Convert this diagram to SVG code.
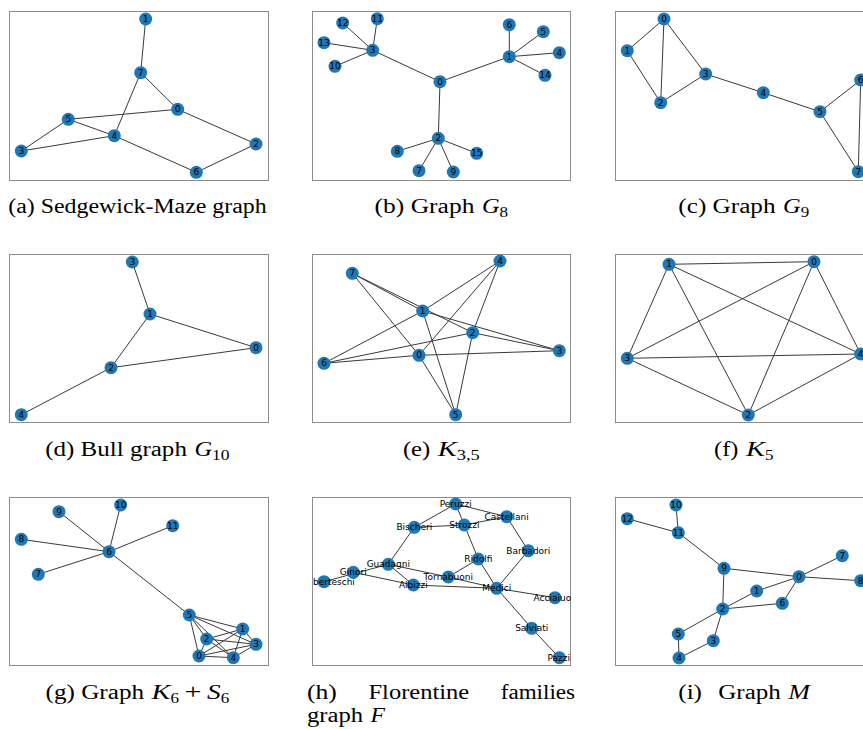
<svg xmlns="http://www.w3.org/2000/svg" width="863" height="729" viewBox="0 0 863 729">
<style>
.frame{fill:none;stroke:#8c8c8c;stroke-width:1}
.e line{stroke:#3a3a3a;stroke-width:1}
.n circle{fill:#1f78b4}
.n text{font-family:"DejaVu Sans",sans-serif;font-size:9px;fill:#000;text-anchor:middle;dominant-baseline:central}
.cap{font-family:"Liberation Serif",serif;font-size:20px;fill:#000}
.it{font-style:italic}
.sub{font-size:14.5px}
</style>
<rect width="863" height="729" fill="#fff"/>
<g id="frames">
<rect class="frame" x="9.5" y="11.5" width="259" height="169"/>
<rect class="frame" x="312.5" y="11.5" width="258" height="169"/>
<rect class="frame" x="615.5" y="11.5" width="259" height="169"/>
<rect class="frame" x="9.5" y="254.5" width="259" height="168"/>
<rect class="frame" x="312.5" y="254.5" width="258" height="168"/>
<rect class="frame" x="615.5" y="254.5" width="259" height="168"/>
<rect class="frame" x="9.5" y="497.5" width="259" height="168"/>
<rect class="frame" x="312.5" y="497.5" width="258" height="168"/>
<rect class="frame" x="615.5" y="497.5" width="259" height="168"/>
</g>
<g id="connectors" class="e">
<!-- a -->
<line x1="145.7" y1="19" x2="140.7" y2="72.7"/>
<line x1="140.7" y1="72.7" x2="177.7" y2="109.3"/>
<line x1="140.7" y1="72.7" x2="114.3" y2="135.7"/>
<line x1="177.7" y1="109.3" x2="68.3" y2="119.3"/>
<line x1="177.7" y1="109.3" x2="256" y2="144"/>
<line x1="68.3" y1="119.3" x2="21.3" y2="151"/>
<line x1="68.3" y1="119.3" x2="114.3" y2="135.7"/>
<line x1="21.3" y1="151" x2="114.3" y2="135.7"/>
<line x1="114.3" y1="135.7" x2="196.3" y2="172.3"/>
<line x1="196.3" y1="172.3" x2="256" y2="144"/>
<!-- b -->
<line x1="372.7" y1="50.3" x2="377.3" y2="18.7"/>
<line x1="372.7" y1="50.3" x2="342.7" y2="23"/>
<line x1="372.7" y1="50.3" x2="324" y2="42.7"/>
<line x1="372.7" y1="50.3" x2="335" y2="66.3"/>
<line x1="372.7" y1="50.3" x2="440" y2="81.7"/>
<line x1="440" y1="81.7" x2="509.3" y2="56.7"/>
<line x1="509.3" y1="56.7" x2="509.3" y2="24.7"/>
<line x1="509.3" y1="56.7" x2="543.3" y2="31.7"/>
<line x1="509.3" y1="56.7" x2="559.3" y2="52.7"/>
<line x1="509.3" y1="56.7" x2="545" y2="75.3"/>
<line x1="440" y1="81.7" x2="438.3" y2="138.3"/>
<line x1="438.3" y1="138.3" x2="397.3" y2="151.3"/>
<line x1="438.3" y1="138.3" x2="419" y2="170.7"/>
<line x1="438.3" y1="138.3" x2="453.3" y2="172"/>
<line x1="438.3" y1="138.3" x2="476.7" y2="153.3"/>
<!-- c -->
<line x1="664" y1="19" x2="627.3" y2="50.7"/>
<line x1="664" y1="19" x2="660.7" y2="102.7"/>
<line x1="664" y1="19" x2="705.7" y2="74"/>
<line x1="627.3" y1="50.7" x2="660.7" y2="102.7"/>
<line x1="660.7" y1="102.7" x2="705.7" y2="74"/>
<line x1="705.7" y1="74" x2="763.3" y2="92.7"/>
<line x1="763.3" y1="92.7" x2="820" y2="111.7"/>
<line x1="820" y1="111.7" x2="860.7" y2="80"/>
<line x1="820" y1="111.7" x2="858.3" y2="171.7"/>
<line x1="860.7" y1="80" x2="858.3" y2="171.7"/>
<!-- d -->
<line x1="132.3" y1="262" x2="150" y2="314"/>
<line x1="150" y1="314" x2="256" y2="347.7"/>
<line x1="150" y1="314" x2="111" y2="367.7"/>
<line x1="111" y1="367.7" x2="256" y2="347.7"/>
<line x1="111" y1="367.7" x2="21.3" y2="414.7"/>
<!-- e -->
<line x1="419" y1="355.3" x2="559.3" y2="350.7"/>
<line x1="419" y1="355.3" x2="500" y2="261"/>
<line x1="419" y1="355.3" x2="455.7" y2="414.7"/>
<line x1="419" y1="355.3" x2="324" y2="363.3"/>
<line x1="419" y1="355.3" x2="352.3" y2="273.3"/>
<line x1="422.7" y1="311" x2="559.3" y2="350.7"/>
<line x1="422.7" y1="311" x2="500" y2="261"/>
<line x1="422.7" y1="311" x2="455.7" y2="414.7"/>
<line x1="422.7" y1="311" x2="324" y2="363.3"/>
<line x1="422.7" y1="311" x2="352.3" y2="273.3"/>
<line x1="472.7" y1="332.7" x2="559.3" y2="350.7"/>
<line x1="472.7" y1="332.7" x2="500" y2="261"/>
<line x1="472.7" y1="332.7" x2="455.7" y2="414.7"/>
<line x1="472.7" y1="332.7" x2="324" y2="363.3"/>
<line x1="472.7" y1="332.7" x2="352.3" y2="273.3"/>
<!-- f -->
<line x1="814" y1="261.7" x2="669" y2="264.3"/>
<line x1="814" y1="261.7" x2="748.3" y2="415"/>
<line x1="814" y1="261.7" x2="627.3" y2="358.3"/>
<line x1="814" y1="261.7" x2="860.7" y2="354"/>
<line x1="669" y1="264.3" x2="748.3" y2="415"/>
<line x1="669" y1="264.3" x2="627.3" y2="358.3"/>
<line x1="669" y1="264.3" x2="860.7" y2="354"/>
<line x1="748.3" y1="415" x2="627.3" y2="358.3"/>
<line x1="748.3" y1="415" x2="860.7" y2="354"/>
<line x1="627.3" y1="358.3" x2="860.7" y2="354"/>
<!-- g -->
<line x1="109" y1="551.7" x2="120.7" y2="505"/>
<line x1="109" y1="551.7" x2="59" y2="511.7"/>
<line x1="109" y1="551.7" x2="172.7" y2="525.7"/>
<line x1="109" y1="551.7" x2="21.3" y2="539.3"/>
<line x1="109" y1="551.7" x2="38.3" y2="574.3"/>
<line x1="109" y1="551.7" x2="189.3" y2="615"/>
<line x1="199" y1="656" x2="242.7" y2="629"/>
<line x1="199" y1="656" x2="206.7" y2="639"/>
<line x1="199" y1="656" x2="256" y2="644.3"/>
<line x1="199" y1="656" x2="233.3" y2="657.7"/>
<line x1="199" y1="656" x2="189.3" y2="615"/>
<line x1="242.7" y1="629" x2="206.7" y2="639"/>
<line x1="242.7" y1="629" x2="256" y2="644.3"/>
<line x1="242.7" y1="629" x2="233.3" y2="657.7"/>
<line x1="242.7" y1="629" x2="189.3" y2="615"/>
<line x1="206.7" y1="639" x2="256" y2="644.3"/>
<line x1="206.7" y1="639" x2="233.3" y2="657.7"/>
<line x1="206.7" y1="639" x2="189.3" y2="615"/>
<line x1="256" y1="644.3" x2="233.3" y2="657.7"/>
<line x1="256" y1="644.3" x2="189.3" y2="615"/>
<line x1="233.3" y1="657.7" x2="189.3" y2="615"/>
<!-- h -->
<line x1="555" y1="597.7" x2="496.7" y2="588.3"/>
<line x1="496.7" y1="588.3" x2="528.3" y2="550.7"/>
<line x1="496.7" y1="588.3" x2="478.3" y2="559"/>
<line x1="496.7" y1="588.3" x2="448.3" y2="577"/>
<line x1="496.7" y1="588.3" x2="413.3" y2="585"/>
<line x1="496.7" y1="588.3" x2="531.7" y2="628.3"/>
<line x1="506.7" y1="516.7" x2="455.7" y2="504"/>
<line x1="506.7" y1="516.7" x2="464.3" y2="525"/>
<line x1="506.7" y1="516.7" x2="528.3" y2="550.7"/>
<line x1="455.7" y1="504" x2="464.3" y2="525"/>
<line x1="455.7" y1="504" x2="414.3" y2="527.3"/>
<line x1="464.3" y1="525" x2="478.3" y2="559"/>
<line x1="464.3" y1="525" x2="414.3" y2="527.3"/>
<line x1="414.3" y1="527.3" x2="388.3" y2="564.3"/>
<line x1="388.3" y1="564.3" x2="324" y2="581.7"/>
<line x1="388.3" y1="564.3" x2="448.3" y2="577"/>
<line x1="388.3" y1="564.3" x2="413.3" y2="585"/>
<line x1="413.3" y1="585" x2="353.3" y2="572.3"/>
<line x1="478.3" y1="559" x2="448.3" y2="577"/>
<line x1="531.7" y1="628.3" x2="559.3" y2="657.7"/>
<!-- i -->
<line x1="676" y1="505" x2="678.3" y2="532.7"/>
<line x1="627.3" y1="518.7" x2="678.3" y2="532.7"/>
<line x1="678.3" y1="532.7" x2="724" y2="568.3"/>
<line x1="724" y1="568.3" x2="799" y2="576.7"/>
<line x1="724" y1="568.3" x2="722.7" y2="609"/>
<line x1="799" y1="576.7" x2="842.3" y2="555.7"/>
<line x1="799" y1="576.7" x2="860.7" y2="580.7"/>
<line x1="799" y1="576.7" x2="756.7" y2="591"/>
<line x1="799" y1="576.7" x2="782.3" y2="603.3"/>
<line x1="756.7" y1="591" x2="722.7" y2="609"/>
<line x1="782.3" y1="603.3" x2="722.7" y2="609"/>
<line x1="722.7" y1="609" x2="678.3" y2="634"/>
<line x1="722.7" y1="609" x2="713.3" y2="640.7"/>
<line x1="678.3" y1="634" x2="679" y2="658"/>
<line x1="713.3" y1="640.7" x2="679" y2="658"/>
</g>
<g id="nodes-a">
<g id="a0" class="n"><circle cx="177.7" cy="109.3" r="6.5"/><text x="177.7" y="109.3">0</text></g>
<g id="a1" class="n"><circle cx="145.7" cy="19" r="6.5"/><text x="145.7" y="19">1</text></g>
<g id="a2" class="n"><circle cx="256" cy="144" r="6.5"/><text x="256" y="144">2</text></g>
<g id="a3" class="n"><circle cx="21.3" cy="151" r="6.5"/><text x="21.3" y="151">3</text></g>
<g id="a4" class="n"><circle cx="114.3" cy="135.7" r="6.5"/><text x="114.3" y="135.7">4</text></g>
<g id="a5" class="n"><circle cx="68.3" cy="119.3" r="6.5"/><text x="68.3" y="119.3">5</text></g>
<g id="a6" class="n"><circle cx="196.3" cy="172.3" r="6.5"/><text x="196.3" y="172.3">6</text></g>
<g id="a7" class="n"><circle cx="140.7" cy="72.7" r="6.5"/><text x="140.7" y="72.7">7</text></g>
</g>
<g id="nodes-b">
<g id="b0" class="n"><circle cx="440" cy="81.7" r="6.5"/><text x="440" y="81.7">0</text></g>
<g id="b1" class="n"><circle cx="509.3" cy="56.7" r="6.5"/><text x="509.3" y="56.7">1</text></g>
<g id="b2" class="n"><circle cx="438.3" cy="138.3" r="6.5"/><text x="438.3" y="138.3">2</text></g>
<g id="b3" class="n"><circle cx="372.7" cy="50.3" r="6.5"/><text x="372.7" y="50.3">3</text></g>
<g id="b4" class="n"><circle cx="559.3" cy="52.7" r="6.5"/><text x="559.3" y="52.7">4</text></g>
<g id="b5" class="n"><circle cx="543.3" cy="31.7" r="6.5"/><text x="543.3" y="31.7">5</text></g>
<g id="b6" class="n"><circle cx="509.3" cy="24.7" r="6.5"/><text x="509.3" y="24.7">6</text></g>
<g id="b7" class="n"><circle cx="419" cy="170.7" r="6.5"/><text x="419" y="170.7">7</text></g>
<g id="b8" class="n"><circle cx="397.3" cy="151.3" r="6.5"/><text x="397.3" y="151.3">8</text></g>
<g id="b9" class="n"><circle cx="453.3" cy="172" r="6.5"/><text x="453.3" y="172">9</text></g>
<g id="b10" class="n"><circle cx="335" cy="66.3" r="6.5"/><text x="335" y="66.3">10</text></g>
<g id="b11" class="n"><circle cx="377.3" cy="18.7" r="6.5"/><text x="377.3" y="18.7">11</text></g>
<g id="b12" class="n"><circle cx="342.7" cy="23" r="6.5"/><text x="342.7" y="23">12</text></g>
<g id="b13" class="n"><circle cx="324" cy="42.7" r="6.5"/><text x="324" y="42.7">13</text></g>
<g id="b14" class="n"><circle cx="545" cy="75.3" r="6.5"/><text x="545" y="75.3">14</text></g>
<g id="b15" class="n"><circle cx="476.7" cy="153.3" r="6.5"/><text x="476.7" y="153.3">15</text></g>
</g>
<g id="nodes-c">
<g id="c0" class="n"><circle cx="664" cy="19" r="6.5"/><text x="664" y="19">0</text></g>
<g id="c1" class="n"><circle cx="627.3" cy="50.7" r="6.5"/><text x="627.3" y="50.7">1</text></g>
<g id="c2" class="n"><circle cx="660.7" cy="102.7" r="6.5"/><text x="660.7" y="102.7">2</text></g>
<g id="c3" class="n"><circle cx="705.7" cy="74" r="6.5"/><text x="705.7" y="74">3</text></g>
<g id="c4" class="n"><circle cx="763.3" cy="92.7" r="6.5"/><text x="763.3" y="92.7">4</text></g>
<g id="c5" class="n"><circle cx="820" cy="111.7" r="6.5"/><text x="820" y="111.7">5</text></g>
<g id="c6" class="n"><circle cx="860.7" cy="80" r="6.5"/><text x="860.7" y="80">6</text></g>
<g id="c7" class="n"><circle cx="858.3" cy="171.7" r="6.5"/><text x="858.3" y="171.7">7</text></g>
</g>
<g id="nodes-d">
<g id="d0" class="n"><circle cx="256" cy="347.7" r="6.5"/><text x="256" y="347.7">0</text></g>
<g id="d1" class="n"><circle cx="150" cy="314" r="6.5"/><text x="150" y="314">1</text></g>
<g id="d2" class="n"><circle cx="111" cy="367.7" r="6.5"/><text x="111" y="367.7">2</text></g>
<g id="d3" class="n"><circle cx="132.3" cy="262" r="6.5"/><text x="132.3" y="262">3</text></g>
<g id="d4" class="n"><circle cx="21.3" cy="414.7" r="6.5"/><text x="21.3" y="414.7">4</text></g>
</g>
<g id="nodes-e">
<g id="e0" class="n"><circle cx="419" cy="355.3" r="6.5"/><text x="419" y="355.3">0</text></g>
<g id="e1" class="n"><circle cx="422.7" cy="311" r="6.5"/><text x="422.7" y="311">1</text></g>
<g id="e2" class="n"><circle cx="472.7" cy="332.7" r="6.5"/><text x="472.7" y="332.7">2</text></g>
<g id="e3" class="n"><circle cx="559.3" cy="350.7" r="6.5"/><text x="559.3" y="350.7">3</text></g>
<g id="e4" class="n"><circle cx="500" cy="261" r="6.5"/><text x="500" y="261">4</text></g>
<g id="e5" class="n"><circle cx="455.7" cy="414.7" r="6.5"/><text x="455.7" y="414.7">5</text></g>
<g id="e6" class="n"><circle cx="324" cy="363.3" r="6.5"/><text x="324" y="363.3">6</text></g>
<g id="e7" class="n"><circle cx="352.3" cy="273.3" r="6.5"/><text x="352.3" y="273.3">7</text></g>
</g>
<g id="nodes-f">
<g id="f0" class="n"><circle cx="814" cy="261.7" r="6.5"/><text x="814" y="261.7">0</text></g>
<g id="f1" class="n"><circle cx="669" cy="264.3" r="6.5"/><text x="669" y="264.3">1</text></g>
<g id="f2" class="n"><circle cx="748.3" cy="415" r="6.5"/><text x="748.3" y="415">2</text></g>
<g id="f3" class="n"><circle cx="627.3" cy="358.3" r="6.5"/><text x="627.3" y="358.3">3</text></g>
<g id="f4" class="n"><circle cx="860.7" cy="354" r="6.5"/><text x="860.7" y="354">4</text></g>
</g>
<g id="nodes-g">
<g id="g0" class="n"><circle cx="199" cy="656" r="6.5"/><text x="199" y="656">0</text></g>
<g id="g1" class="n"><circle cx="242.7" cy="629" r="6.5"/><text x="242.7" y="629">1</text></g>
<g id="g2" class="n"><circle cx="206.7" cy="639" r="6.5"/><text x="206.7" y="639">2</text></g>
<g id="g3" class="n"><circle cx="256" cy="644.3" r="6.5"/><text x="256" y="644.3">3</text></g>
<g id="g4" class="n"><circle cx="233.3" cy="657.7" r="6.5"/><text x="233.3" y="657.7">4</text></g>
<g id="g5" class="n"><circle cx="189.3" cy="615" r="6.5"/><text x="189.3" y="615">5</text></g>
<g id="g6" class="n"><circle cx="109" cy="551.7" r="6.5"/><text x="109" y="551.7">6</text></g>
<g id="g7" class="n"><circle cx="38.3" cy="574.3" r="6.5"/><text x="38.3" y="574.3">7</text></g>
<g id="g8" class="n"><circle cx="21.3" cy="539.3" r="6.5"/><text x="21.3" y="539.3">8</text></g>
<g id="g9" class="n"><circle cx="59" cy="511.7" r="6.5"/><text x="59" y="511.7">9</text></g>
<g id="g10" class="n"><circle cx="120.7" cy="505" r="6.5"/><text x="120.7" y="505">10</text></g>
<g id="g11" class="n"><circle cx="172.7" cy="525.7" r="6.5"/><text x="172.7" y="525.7">11</text></g>
</g>
<g id="nodes-h">
<g id="h-Peruzzi" class="n"><circle cx="455.7" cy="504" r="6.5"/><text x="455.7" y="504">Peruzzi</text></g>
<g id="h-Castellani" class="n"><circle cx="506.7" cy="516.7" r="6.5"/><text x="506.7" y="516.7">Castellani</text></g>
<g id="h-Bischeri" class="n"><circle cx="414.3" cy="527.3" r="6.5"/><text x="414.3" y="527.3">Bischeri</text></g>
<g id="h-Strozzi" class="n"><circle cx="464.3" cy="525" r="6.5"/><text x="464.3" y="525">Strozzi</text></g>
<g id="h-Barbadori" class="n"><circle cx="528.3" cy="550.7" r="6.5"/><text x="528.3" y="550.7">Barbadori</text></g>
<g id="h-Ridolfi" class="n"><circle cx="478.3" cy="559" r="6.5"/><text x="478.3" y="559">Ridolfi</text></g>
<g id="h-Guadagni" class="n"><circle cx="388.3" cy="564.3" r="6.5"/><text x="388.3" y="564.3">Guadagni</text></g>
<g id="h-Ginori" class="n"><circle cx="353.3" cy="572.3" r="6.5"/><text x="353.3" y="572.3">Ginori</text></g>
<g id="h-Lamberteschi" class="n"><circle cx="324" cy="581.7" r="6.5"/><text x="313" y="581.7" style="text-anchor:start">berteschi</text></g>
<g id="h-Tornabuoni" class="n"><circle cx="448.3" cy="577" r="6.5"/><text x="448.3" y="577">Tornabuoni</text></g>
<g id="h-Albizzi" class="n"><circle cx="413.3" cy="585" r="6.5"/><text x="413.3" y="585">Albizzi</text></g>
<g id="h-Medici" class="n"><circle cx="496.7" cy="588.3" r="6.5"/><text x="496.7" y="588.3">Medici</text></g>
<g id="h-Acciaiuoli" class="n"><circle cx="555" cy="597.7" r="6.5"/><text x="533.6" y="597.7" style="text-anchor:start">Acciaiuo</text></g>
<g id="h-Salviati" class="n"><circle cx="531.7" cy="628.3" r="6.5"/><text x="531.7" y="628.3">Salviati</text></g>
<g id="h-Pazzi" class="n"><circle cx="559.3" cy="657.7" r="6.5"/><text x="558.8" y="657.7">Pazzi</text></g>
</g>
<g id="nodes-i">
<g id="i0" class="n"><circle cx="799" cy="576.7" r="6.5"/><text x="799" y="576.7">0</text></g>
<g id="i1" class="n"><circle cx="756.7" cy="591" r="6.5"/><text x="756.7" y="591">1</text></g>
<g id="i2" class="n"><circle cx="722.7" cy="609" r="6.5"/><text x="722.7" y="609">2</text></g>
<g id="i3" class="n"><circle cx="713.3" cy="640.7" r="6.5"/><text x="713.3" y="640.7">3</text></g>
<g id="i4" class="n"><circle cx="679" cy="658" r="6.5"/><text x="679" y="658">4</text></g>
<g id="i5" class="n"><circle cx="678.3" cy="634" r="6.5"/><text x="678.3" y="634">5</text></g>
<g id="i6" class="n"><circle cx="782.3" cy="603.3" r="6.5"/><text x="782.3" y="603.3">6</text></g>
<g id="i7" class="n"><circle cx="842.3" cy="555.7" r="6.5"/><text x="842.3" y="555.7">7</text></g>
<g id="i8" class="n"><circle cx="860.7" cy="580.7" r="6.5"/><text x="860.7" y="580.7">8</text></g>
<g id="i9" class="n"><circle cx="724" cy="568.3" r="6.5"/><text x="724" y="568.3">9</text></g>
<g id="i10" class="n"><circle cx="676" cy="505" r="6.5"/><text x="676" y="505">10</text></g>
<g id="i11" class="n"><circle cx="678.3" cy="532.7" r="6.5"/><text x="678.3" y="532.7">11</text></g>
<g id="i12" class="n"><circle cx="627.3" cy="518.7" r="6.5"/><text x="627.3" y="518.7">12</text></g>
</g>
<g id="captions" class="cap">
<text x="8.3" y="213" textLength="258.4" lengthAdjust="spacingAndGlyphs">(a) Sedgewick-Maze graph</text>
<text x="374.6" y="213" textLength="99.8" lengthAdjust="spacingAndGlyphs">(b) Graph</text>
<text class="it" x="481.9" y="213" textLength="17.6" lengthAdjust="spacingAndGlyphs">G</text>
<text class="sub" x="499.5" y="216.5" textLength="8.5" lengthAdjust="spacingAndGlyphs">8</text>
<text x="678.3" y="213" textLength="97.3" lengthAdjust="spacingAndGlyphs">(c) Graph</text>
<text class="it" x="783.1" y="213" textLength="17.6" lengthAdjust="spacingAndGlyphs">G</text>
<text class="sub" x="800.7" y="216.5" textLength="8.5" lengthAdjust="spacingAndGlyphs">9</text>
<text x="45.2" y="456" textLength="141.7" lengthAdjust="spacingAndGlyphs">(d) Bull graph</text>
<text class="it" x="194.4" y="456" textLength="17.6" lengthAdjust="spacingAndGlyphs">G</text>
<text class="sub" x="212" y="459.5" textLength="17.5" lengthAdjust="spacingAndGlyphs">10</text>
<text x="402.9" y="456" textLength="27.4" lengthAdjust="spacingAndGlyphs">(e)</text>
<text class="it" x="437.8" y="456" textLength="19" lengthAdjust="spacingAndGlyphs">K</text>
<text class="sub" x="456.8" y="459.5" textLength="23" lengthAdjust="spacingAndGlyphs">3,5</text>
<text x="714.1" y="456" textLength="24.3" lengthAdjust="spacingAndGlyphs">(f)</text>
<text class="it" x="745.9" y="456" textLength="19" lengthAdjust="spacingAndGlyphs">K</text>
<text class="sub" x="764.9" y="459.5" textLength="8.5" lengthAdjust="spacingAndGlyphs">5</text>
<text x="45.5" y="699" textLength="98.6" lengthAdjust="spacingAndGlyphs">(g) Graph</text>
<text class="it" x="151.6" y="699" textLength="19" lengthAdjust="spacingAndGlyphs">K</text>
<text class="sub" x="170.6" y="702.5" textLength="8.5" lengthAdjust="spacingAndGlyphs">6</text>
<text x="184.6" y="699" textLength="17" lengthAdjust="spacingAndGlyphs">+</text>
<text class="it" x="207" y="699" textLength="13.7" lengthAdjust="spacingAndGlyphs">S</text>
<text class="sub" x="220.7" y="702.5" textLength="8.5" lengthAdjust="spacingAndGlyphs">6</text>
<text x="307" y="699" textLength="29.9" lengthAdjust="spacingAndGlyphs">(h)</text>
<text x="368.5" y="699" textLength="100.6" lengthAdjust="spacingAndGlyphs">Florentine</text>
<text x="500.8" y="699" textLength="74.2" lengthAdjust="spacingAndGlyphs">families</text>
<text x="307" y="722" textLength="56.1" lengthAdjust="spacingAndGlyphs">graph</text>
<text class="it" x="370.6" y="722" textLength="14.4" lengthAdjust="spacingAndGlyphs">F</text>
<text x="678.3" y="699" textLength="23.7" lengthAdjust="spacingAndGlyphs">(i)</text>
<text x="718.3" y="699" textLength="62.5" lengthAdjust="spacingAndGlyphs">Graph</text>
<text class="it" x="788.3" y="699" textLength="21.7" lengthAdjust="spacingAndGlyphs">M</text>
</g>
</svg>
